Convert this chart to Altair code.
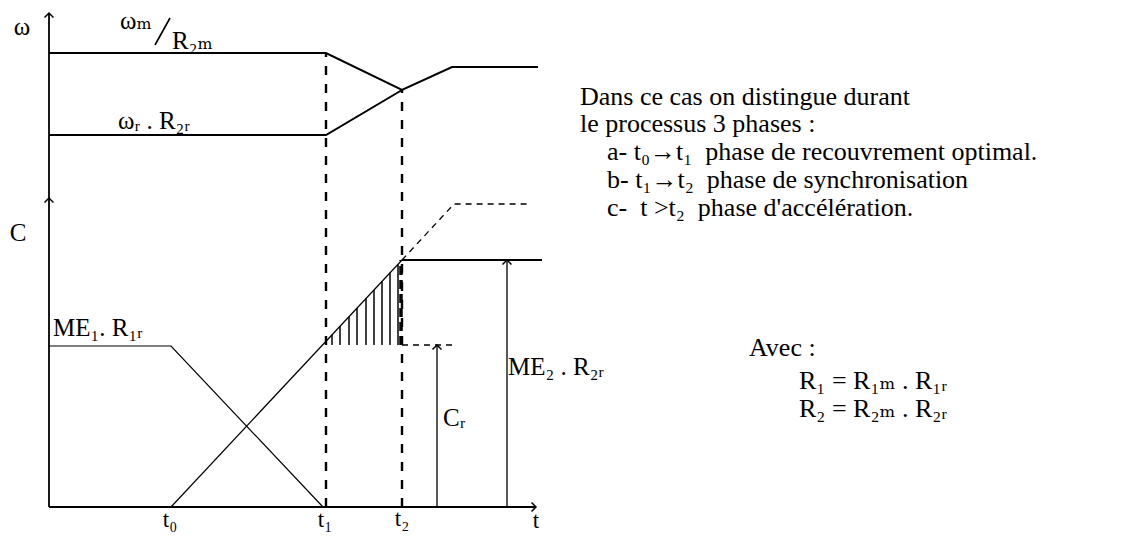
import altair as alt
import pandas as pd

# ---- key instants (time units) ----
T0, T1, T2, T3, TEND = 12.2, 27.7, 35.3, 40.3, 48.9
# ---- speed levels ----
WM, WR, WMEET, WFIN = 45.4, 37.2, 41.7, 44.0
# ---- torque levels ----
ME1, CR, ME2, CEXT = 16.1, 16.2, 24.7, 30.3

# speed curves
wm_x = [0, T1, T2, T3, TEND]
wm_y = [WM, WM, WMEET, WFIN, WFIN]
wr_x = [0, T1, T2]
wr_y = [WR, WR, WMEET]
# torque curves
me1_x = [0, T0, 27.4]
me1_y = [ME1, ME1, 0]
rise_x = [T0, T2]
rise_y = [0, ME2]
me2_x = [T2, 49.3]
me2_y = [ME2, ME2]
ext_x = [T2, 40.5, 48.1]
ext_y = [ME2, CEXT, CEXT]
cr_x = [T2, 40.5]
cr_y = [CR, CR]
hatch_x = [28.3, 29.1, 30.0, 30.8, 31.7, 32.5, 33.3, 34.1, 34.9]


def lines(name, xs, ys):
    return pd.DataFrame({"seg": name, "o": range(len(xs)), "x": xs, "y": ys})


thick = pd.concat([lines("wm", wm_x, wm_y), lines("wr", wr_x, wr_y),
                   lines("me2", me2_x, me2_y)])
thin = pd.concat([lines("me1", me1_x, me1_y), lines("rise", rise_x, rise_y)])
axes = pd.concat([lines("vax", [0, 0], [0, 49.4]), lines("hax", [0, 48.7], [0, 0])])
dashed_thin = pd.concat([lines("ext", ext_x, ext_y), lines("cr", cr_x, cr_y)])
vdash = pd.DataFrame({"x": [T1, T2], "y": [0, 0], "y2": [WM, WMEET]})
bold_dash = pd.DataFrame({"x": [T2 - 0.1], "y": [CR], "y2": [ME2]})
arrows_v = pd.DataFrame({"x": [38.8, 45.8], "y": [0, 0], "y2": [CR, ME2]})
slash = lines("slash", [10.6, 12.1], [46.2, 48.9])

slope = (rise_y[1] - rise_y[0]) / (rise_x[1] - rise_x[0])
hatch = pd.DataFrame({"x": hatch_x, "y": CR,
                      "y2": [rise_y[0] + slope * (h - rise_x[0]) for h in hatch_x]})

heads = pd.DataFrame({"x": [0, 0, 48.7, 38.8, 45.8],
                      "y": [49.4, 30.9, 0, CR, ME2],
                      "a": [0, 0, 90, 0, 0]})

center_labels = pd.DataFrame({
    "x": [-2.7, -3.1],
    "y": [48.0, 27.4],
    "t": ["ω", "C"],
})
tick_labels = pd.DataFrame({
    "x": [12.1, 27.6, 35.3, 48.7],
    "y": [-1.3, -1.3, -1.2, -1.4],
    "t": ["t₀", "t₁", "t₂", "t"],
})
left_labels = pd.DataFrame({
    "x": [7.1, 12.3, 6.9, 0.4, 45.9, 39.4],
    "y": [48.6, 46.6, 38.6, 17.9, 14.0, 8.9],
    "t": ["ωₘ", "R₂ₘ", "ωᵣ . R₂ᵣ", "ME₁. R₁ᵣ", "ME₂ . R₂ᵣ", "Cᵣ"],
})
NB = "\u00a0"
text_x = [53.1, 53.1, 55.8, 55.8, 55.8, 70.0, 75.0, 75.0]
text_y = [41.0, 38.3, 35.5, 32.7, 29.9, 15.9, 12.6, 9.8]
text_t = ["Dans ce cas on distingue durant",
          "le processus 3 phases :",
          "a- t₀→t₁" + NB + NB + "phase de recouvrement optimal.",
          "b- t₁→t₂" + NB + NB + "phase de synchronisation",
          "c-" + NB + NB + "t >t₂" + NB + NB + "phase d'accélération.",
          "Avec :",
          "R₁ = R₁ₘ . R₁ᵣ",
          "R₂ = R₂ₘ . R₂ᵣ"]
right_text = pd.DataFrame({"x": text_x, "y": text_y, "t": text_t})

X = alt.X("x:Q", scale=alt.Scale(domain=[-4.1, 106.7], nice=False, zero=False), axis=None)
Y = alt.Y("y:Q", scale=alt.Scale(domain=[-3.1, 49.9], nice=False, zero=False), axis=None)
FONT = "Liberation Serif, DejaVu Serif, serif"


def line_layer(df, **kw):
    return alt.Chart(df).mark_line(color="black", **kw).encode(
        x=X, y=Y, detail="seg:N", order="o:Q")


layers = [
    line_layer(axes, strokeWidth=1.8),
    line_layer(thick, strokeWidth=2.0),
    line_layer(thin, strokeWidth=1.2),
    line_layer(dashed_thin, strokeWidth=1.3, strokeDash=[6, 5]),
    line_layer(slash, strokeWidth=1.6),
    alt.Chart(vdash).mark_rule(color="black", strokeWidth=2.4, strokeDash=[9, 9]).encode(
        x=X, y=Y, y2="y2:Q"),
    alt.Chart(bold_dash).mark_rule(color="black", strokeWidth=3.5, strokeDash=[9, 5]).encode(
        x=X, y=Y, y2="y2:Q"),
    alt.Chart(hatch).mark_rule(color="black", strokeWidth=1.5).encode(
        x=X, y=Y, y2="y2:Q"),
    alt.Chart(arrows_v).mark_rule(color="black", strokeWidth=1.3).encode(
        x=X, y=Y, y2="y2:Q"),
    alt.Chart(heads).mark_point(shape="M-1,1L0,0L1,1", filled=False, color="black",
                                strokeWidth=1.5, size=80, opacity=1).encode(
        x=X, y=Y, angle=alt.Angle("a:Q", scale=None)),
    alt.Chart(center_labels).mark_text(font=FONT, fontSize=25, align="center",
                                       baseline="middle", color="black").encode(
        x=X, y=Y, text="t:N"),
    alt.Chart(tick_labels).mark_text(font=FONT, fontSize=23, align="center",
                                     baseline="middle", color="black").encode(
        x=X, y=Y, text="t:N"),
    alt.Chart(left_labels).mark_text(font=FONT, fontSize=25, align="left",
                                     baseline="middle", color="black").encode(
        x=X, y=Y, text="t:N"),
    alt.Chart(right_text).mark_text(font=FONT, fontSize=26, align="left",
                                    baseline="middle", color="black").encode(
        x=X, y=Y, text="t:N"),
]

chart = alt.layer(*layers).properties(
    width=1108, height=530,
    autosize=alt.AutoSizeParams(type="none"),
    padding=0, background="white",
).configure_view(stroke=None)

chart.save("out.html", embed_options={"renderer": "svg", "actions": False})
